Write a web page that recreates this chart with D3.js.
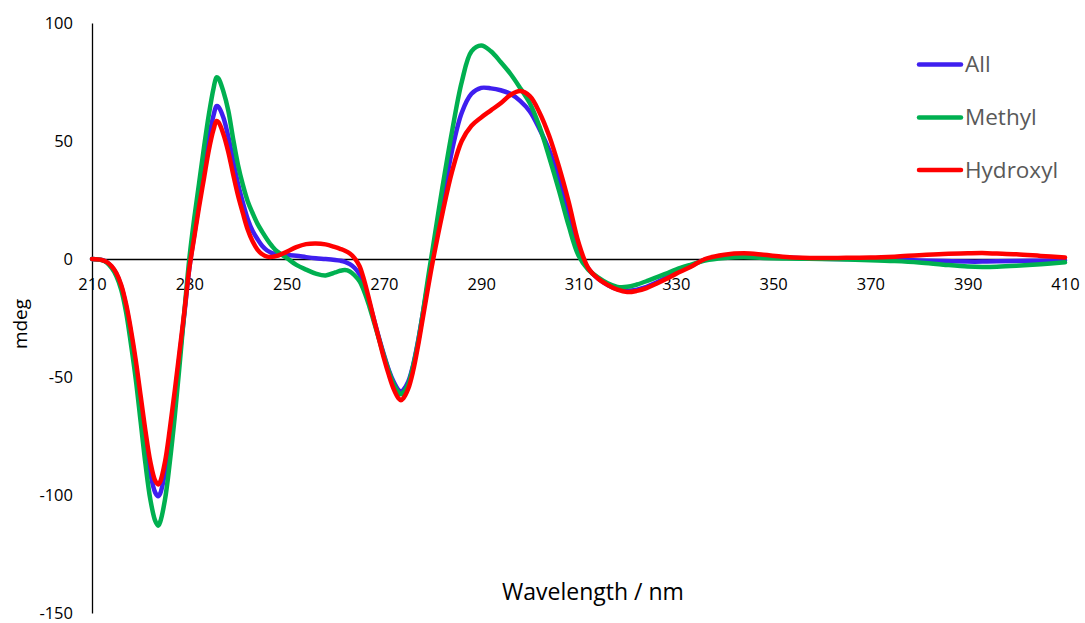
<!DOCTYPE html>
<html>
<head>
<meta charset="utf-8">
<script src="https://cdn.jsdelivr.net/npm/d3@7"></script>
<style>
  html, body { margin: 0; padding: 0; background: #fff; }
  svg { display: block; }
</style>
</head>
<body>
<svg id="chart" width="1085" height="623"></svg>
<script>
const wavelength = [
  210,212,213,214,215,216,217,218,219,220,
  221,222,223,223.6,224,225,226,227,228,229,
  230,231,232,233,234,235,235.6,236,237,238,
  239,240,241,242,243,244,245,246,247,248,
  250,252,254,256,258,260,261,262,263,264,
  265,266,267,268,269,270,271,272,273,273.5,
  274,275,276,277,278,279,280,282,284,286,
  288,290,292,294,296,298,300,302,304,306,
  308,310,312,314,316,318,320,322,324,326,
  328,330,333,336,340,344,348,352,356,360,
  365,370,375,380,385,390,393,396,400,405,
  410];

const allValues = [
  0,-0.4,-1.3,-3.2,-6.3,-11.5,-20,-31.5,-45,-61,
  -77,-91,-99,-100.5,-99.5,-90.5,-76,-59,-41,-23,
  -4,10,24,38,51,61,64.8,64.5,60,52,
  42,32,24,17,12,8.5,5.5,3.6,2.5,2,
  1.7,1.4,0.8,0.3,0,-0.4,-0.7,-1.2,-2.2,-3.8,
  -6.5,-12,-18.5,-26,-33.5,-40.5,-47,-52,-55.5,-56.3,
  -55.5,-52,-45,-35,-23,-11,0.5,23,46,62,
  70,72.5,72.3,71.5,70,67,62.5,55,46,34,
  20,5,-4,-8.3,-11,-12.8,-13.5,-13,-11.8,-10,
  -8,-5.8,-3,-0.3,1.3,1.8,1.3,0.7,0.3,0.1,
  0,-0.1,-0.3,-0.6,-0.9,-1.1,-1.1,-1.0,-0.9,-0.7,
  -0.5];

const methylValues = [
  0,-0.5,-1.5,-3.7,-7.2,-13,-22.5,-36,-51,-69,
  -87,-102,-111,-113,-111.5,-102,-86,-67,-45,-22,
  0,17,32,47,61,72.5,77,76.5,71,63,
  51,40,31.5,24.5,19.5,15,11.5,8.3,5.5,3.3,
  0.5,-2.5,-4.5,-6.2,-7,-5.7,-5,-4.7,-5.3,-7,
  -9.5,-14,-20,-27,-34,-41,-47.5,-53,-56.5,-57.3,
  -56.5,-53,-45.5,-35.5,-23,-9,4,30,54,75,
  88,90.5,88,83.5,78.5,72.5,66,56,43,29,
  14,1.5,-4.5,-7.8,-10.3,-11.8,-11.8,-10.8,-9.4,-7.8,
  -6.2,-4.5,-2.5,-0.7,0.4,0.8,0.4,0.2,0.1,0,
  -0.2,-0.5,-0.9,-1.5,-2.4,-3.2,-3.4,-3.3,-2.9,-2.2,
  -1.4];

const hydroxylValues = [
  0,-0.4,-1.2,-3,-6,-11,-19,-30,-43,-58,
  -73,-86,-94,-95.5,-94.5,-86,-72,-56,-39,-22,
  -4,9,22,34,46,55,58.5,58,53,45.5,
  36,27,19.5,12.5,7.5,4,2,1,0.9,1.3,
  3,5,6.3,6.6,6.2,5,4.3,3.5,2.3,0.3,
  -3,-9.5,-17.5,-26,-34,-42,-49,-55,-59,-59.8,
  -59,-55,-47.5,-37,-25,-13,-1.5,19,37,50,
  56.5,60,63,66,69.5,71.2,69,62,52,39,
  24,7,-3.8,-8.3,-11,-13,-14,-13.5,-12.3,-10.5,
  -8.5,-6.3,-3.4,0,1.8,2.4,1.8,1.0,0.5,0.4,
  0.5,0.6,1.0,1.6,2.1,2.4,2.5,2.3,2.0,1.3,
  0.6];

const seriesNames = ["All", "Methyl", "Hydroxyl"];
const seriesColors = ["#3f1fef", "#00b050", "#ff0000"];
const yTickValues = [-150, -100, -50, 0, 50, 100];
const xTickValues = [210, 230, 250, 270, 290, 310, 330, 350, 370, 390, 410];
const xTitle = "Wavelength / nm";
const yTitle = "mdeg";

const seriesValues = [allValues, methylValues, hydroxylValues];

const svg = d3.select("#chart");
const font = "'Open Sans', 'Liberation Sans', sans-serif";
const fmt = d => String(d);

const x = d3.scaleLinear().domain([210, 410]).range([92, 1065]);
const y = d3.scaleLinear().domain([-150, 100]).range([613, 23]);

// y axis
const yAxis = svg.append("g")
  .attr("transform", `translate(${x(210)},0)`)
  .call(d3.axisLeft(y).tickValues(yTickValues).tickSize(0).tickPadding(19).tickFormat(fmt));
yAxis.select(".domain").attr("stroke", "#000").attr("stroke-width", 1.3);
yAxis.selectAll("text").attr("font-family", font).attr("font-size", 16.5).attr("fill", "#000");

// x axis at zero
const xAxis = svg.append("g")
  .attr("transform", `translate(0,${y(0)})`)
  .call(d3.axisBottom(x).tickValues(xTickValues).tickSize(0).tickPadding(19).tickFormat(fmt));
xAxis.select(".domain").attr("stroke", "#000").attr("stroke-width", 1.3);
xAxis.selectAll("text").attr("font-family", font).attr("font-size", 16.5).attr("fill", "#000");

// lines
const line = d3.line()
  .x((d, i) => x(wavelength[i]))
  .y(d => y(d))
  .curve(d3.curveCatmullRom.alpha(0.5));

seriesValues.forEach((vals, k) => {
  svg.append("path")
    .datum(vals)
    .attr("d", line)
    .attr("fill", "none")
    .attr("stroke", seriesColors[k])
    .attr("stroke-width", 4.5)
    .attr("stroke-linejoin", "round")
    .attr("stroke-linecap", "round");
});

// axis titles
svg.append("text")
  .attr("x", 593).attr("y", 592)
  .attr("dy", "0.35em")
  .attr("text-anchor", "middle")
  .attr("font-family", font).attr("font-size", 23).attr("fill", "#000")
  .text(xTitle);

svg.append("text")
  .attr("transform", `translate(20,324) rotate(-90)`)
  .attr("dy", "0.35em")
  .attr("text-anchor", "middle")
  .attr("font-family", font).attr("font-size", 19).attr("fill", "#000")
  .text(yTitle);

// legend
const legendY = [64.5, 117.5, 170];
seriesNames.forEach((name, k) => {
  svg.append("line")
    .attr("x1", 919).attr("x2", 961)
    .attr("y1", legendY[k]).attr("y2", legendY[k])
    .attr("stroke", seriesColors[k]).attr("stroke-width", 4.5)
    .attr("stroke-linecap", "round");
  svg.append("text")
    .attr("x", 965).attr("y", legendY[k])
    .attr("dy", "0.35em")
    .attr("font-family", font).attr("font-size", 22.5).attr("fill", "#595959")
    .text(name);
});
</script>
</body>
</html>
